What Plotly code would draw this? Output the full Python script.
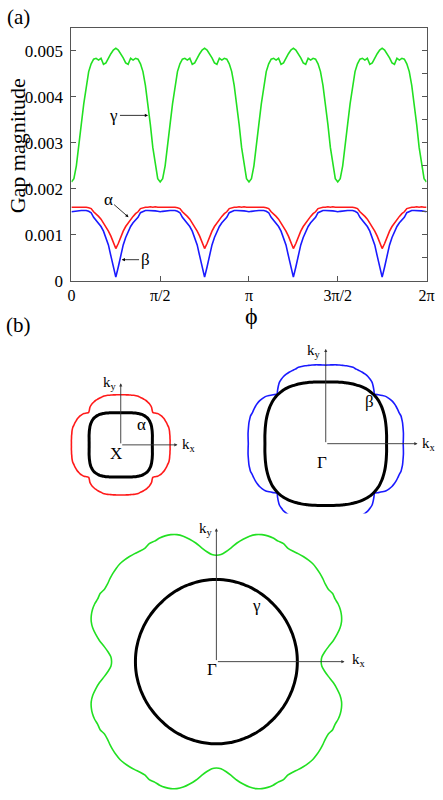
import numpy as np
import plotly.graph_objects as go

# angles (deg) of one eighth of the zone, 0..45 in 2.5 deg steps; the rest follows by symmetry
theta_deg = np.arange(0, 45.01, 2.5)

# gap magnitudes (a) on that grid
gap_alpha = [0.00160, 0.00160, 0.00161, 0.00160, 0.00161, 0.00160, 0.00160, 0.00159, 0.00157,
             0.00150, 0.00146, 0.00140, 0.00134, 0.00126, 0.00118, 0.00108, 0.00097, 0.00081, 0.00070]
gap_beta = [0.00150, 0.00151, 0.00152, 0.00153, 0.00153, 0.00153, 0.00153, 0.00151, 0.00148,
            0.00138, 0.00132, 0.00126, 0.00118, 0.00108, 0.00094, 0.00078, 0.00054, 0.00030, 0.00008]
gap_gamma = [0.00215, 0.00222, 0.00250, 0.00290, 0.00340, 0.00385, 0.00425, 0.00455, 0.00472,
             0.00482, 0.00484, 0.00480, 0.00484, 0.00471, 0.00474, 0.00485, 0.00494, 0.00502, 0.00506]

# Fermi surface radii (arb. units) on the same grid
kf_alpha = [32.5, 32.5, 32.6, 32.8, 33.0, 33.3, 33.7, 34.1, 34.5, 35.0,
            35.5, 36.0, 36.6, 37.1, 37.6, 38.0, 38.3, 38.5, 38.6]
kf_beta = [62.5, 62.6, 62.8, 63.1, 63.4, 63.8, 64.3, 64.8, 65.4, 66.0,
           66.6, 67.2, 67.8, 68.4, 68.9, 69.4, 69.7, 69.9, 70.0]
kf_gamma = [83.2, 83.2, 83.2, 83.2, 83.2, 83.1, 83.1, 83.0, 83.0, 82.9,
            82.9, 82.8, 82.8, 82.7, 82.7, 82.6, 82.6, 82.5, 82.5]

GAP_SCALE = 11400  # gap drawn outward from the FS

W, H = 443, 800
SERIF = "Liberation Serif, Times New Roman, serif"


def full_turn(vals):
    v = np.asarray(vals, dtype=float)
    quarter = np.concatenate([v, v[-2::-1]])
    return np.concatenate([quarter[:-1]] * 4 + [quarter[-1:]])


ang = np.radians(np.arange(0, 360.01, 2.5))


def px_x(p):
    return p / W


def px_y(p):
    return 1 - p / H


fig = go.Figure()

# ---------- panel (a)
for g, col in [(gap_gamma, "#22e022"), (gap_alpha, "#ff1a1a"), (gap_beta, "#1a1aff")]:
    fig.add_trace(go.Scatter(x=ang, y=full_turn(g), mode="lines",
                             line=dict(color=col, width=1.6), xaxis="x", yaxis="y",
                             showlegend=False, hoverinfo="skip"))

ax_line = "#555555"
fig.update_layout(
    xaxis=dict(domain=[px_x(69.3), px_x(434.3)], range=[0, 2 * np.pi],
               tickvals=[0, np.pi / 2, np.pi, 3 * np.pi / 2, 2 * np.pi],
               ticktext=["0", "π/2", "π", "3π/2", "2π"], ticklabeloverflow="allow",
               ticks="inside", ticklen=5, tickcolor=ax_line, showline=True, linecolor=ax_line,
               linewidth=1, mirror=True, showgrid=False, zeroline=False,
               tickfont=dict(family=SERIF, size=16, color="black"), anchor="y"),
    yaxis=dict(domain=[px_y(284.3), px_y(28.3)], range=[0, 0.0055],
               tickvals=[0, 0.001, 0.002, 0.003, 0.004, 0.005],
               ticktext=["0", "0.001", "0.002", "0.003", "0.004", "0.005"],
               ticklabelstandoff=4, ticklabeloverflow="allow",
               ticks="inside", ticklen=5, tickcolor=ax_line, showline=True, linecolor=ax_line,
               linewidth=1, mirror=True, showgrid=False, zeroline=False,
               tickfont=dict(family=SERIF, size=17, color="black"), anchor="x"),
    yaxis5=dict(overlaying="y", side="right", range=[0, 0.0055], dtick=0.0005,
                ticks="inside", ticklen=5, tickcolor=ax_line, showticklabels=False,
                showgrid=False, zeroline=False, showline=False, anchor="x"),
)
# invisible trace to make the right tick axis show
fig.add_trace(go.Scatter(x=[0], y=[0], xaxis="x", yaxis="y5", mode="markers",
                         marker=dict(opacity=0), showlegend=False, hoverinfo="skip"))

# ---------- panel (b): three Fermi surfaces
panels = [
    # name, kf, gap, colour, center px, x range, y range, axis names
    ("alpha", kf_alpha, gap_alpha, "#ff1a1a", (120.0, 450.5), (-62, 80), (-62, 80), "x2", "y2"),
    ("beta", kf_beta, gap_beta, "#1a1aff", (330.7, 449.3), (-90, 110), (-90, 110), "x3", "y3"),
    ("gamma", kf_gamma, gap_gamma, "#22e022", (218.3, 670.0), (-145, 160), (-130, 150), "x4", "y4"),
]

for name, kf, gap, col, (cx, cy), xr, yr, xa, ya in panels:
    r_fs = full_turn(kf)
    r_gap = r_fs + GAP_SCALE * full_turn(gap)
    fig.add_trace(go.Scatter(x=r_gap * np.cos(ang), y=r_gap * np.sin(ang), mode="lines",
                             line=dict(color=col, width=1.6, shape="spline", smoothing=0.6),
                             xaxis=xa, yaxis=ya, showlegend=False, hoverinfo="skip"))
    fig.add_trace(go.Scatter(x=r_fs * np.cos(ang), y=r_fs * np.sin(ang), mode="lines",
                             line=dict(color="black", width=3, shape="spline", smoothing=0.6),
                             xaxis=xa, yaxis=ya, showlegend=False, hoverinfo="skip"))
    fig.layout[xa.replace("x", "xaxis")] = dict(
        domain=[px_x(cx + xr[0]), px_x(cx + xr[1])], range=list(xr), visible=False, anchor=ya)
    fig.layout[ya.replace("y", "yaxis")] = dict(
        domain=[px_y(cy - yr[0]), px_y(cy - yr[1])], range=list(yr), visible=False, anchor=xa)

annotations = []


def text(x, y, s, xref, yref, size=17, xanchor="center", yanchor="middle", angle=0):
    annotations.append(dict(x=x, y=y, text=s, xref=xref, yref=yref, showarrow=False,
                            xanchor=xanchor, yanchor=yanchor, textangle=angle,
                            font=dict(family=SERIF, size=size, color="black")))


def arrow(x0, y0, x1, y1, xref, yref, size=0.7, width=0.9, color="#333333", txt=""):
    annotations.append(dict(x=x1, y=y1, ax=x0, ay=y0, xref=xref, yref=yref, axref=xref,
                            ayref=yref, text=txt, showarrow=True, arrowhead=2, arrowsize=size,
                            arrowwidth=width, arrowcolor=color, standoff=0, startstandoff=0,
                            font=dict(family=SERIF, size=17, color="black")))


# k-space axes
arrow(0, 0, 58.3, 0, "x2", "y2")
arrow(0, 0, 0, 62.4, "x2", "y2")
text(61, 0, "k<sub>x</sub>", "x2", "y2", size=15, xanchor="left")
text(-1.5, 62.4, "k<sub>y</sub>", "x2", "y2", size=15, xanchor="right")
text(-5, -9, "X", "x2", "y2")
text(21.7, 21, "α", "x2", "y2")

arrow(0, 0, 94.3, 0, "x3", "y3")
arrow(0, 0, 0, 96, "x3", "y3")
text(97, 0, "k<sub>x</sub>", "x3", "y3", size=15, xanchor="left")
text(-2.5, 94, "k<sub>y</sub>", "x3", "y3", size=15, xanchor="right")
text(-3.4, -19, "Γ", "x3", "y3")
text(45.3, 42.6, "β", "x3", "y3")

arrow(0, 0, 131.7, 0, "x4", "y4")
arrow(0, 0, 0, 135, "x4", "y4")
text(137, 2, "k<sub>x</sub>", "x4", "y4", size=15, xanchor="left")
text(-1.5, 134, "k<sub>y</sub>", "x4", "y4", size=15, xanchor="right")
text(-4, -8.3, "Γ", "x4", "y4")
text(41.7, 56.7, "γ", "x4", "y4")


# panel (a) labels with arrows (data coords of panel a)
def ax_phi(p):
    return (p - 69.3) / 365.0 * 2 * np.pi


def ax_gap(p):
    return (284.3 - p) / 46.5 * 0.001


arrow(ax_phi(113), ax_gap(117), ax_phi(148), ax_gap(117), "x", "y", size=0.8, width=0.8,
      color="black", txt="γ")
arrow(ax_phi(107), ax_gap(202), ax_phi(128), ax_gap(220), "x", "y", size=0.8, width=0.8,
      color="black", txt="α")
arrow(ax_phi(145), ax_gap(263), ax_phi(121), ax_gap(263), "x", "y", size=0.8, width=0.8,
      color="black", txt="β")

text(px_x(15), px_y(17), "(a)", "paper", "paper", size=21)
text(px_x(15), px_y(329), "(b)", "paper", "paper", size=21)
text(px_x(254), px_y(320), "ϕ", "paper", "paper", size=24)
text(px_x(13.5), px_y(148), "Gap magnitude", "paper", "paper", size=22, angle=-90)

fig.update_layout(annotations=annotations, width=W, height=H, autosize=False,
                  margin=dict(l=0, r=0, t=0, b=0), plot_bgcolor="white",
                  paper_bgcolor="white", showlegend=False)

fig.write_html("out.html", config={"displayModeBar": False},
               post_script="document.body.style.margin='0';")
